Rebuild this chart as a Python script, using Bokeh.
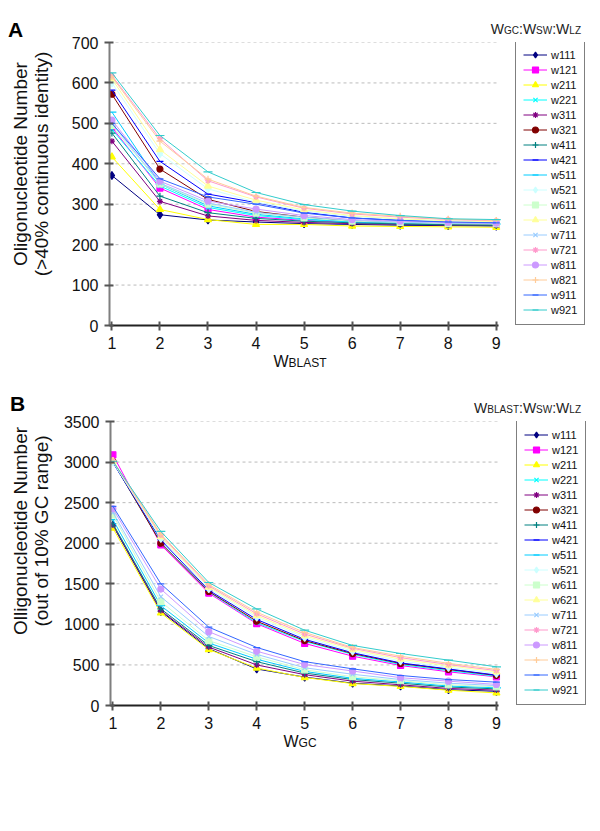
from bokeh.plotting import figure
from bokeh.models import Range1d, Legend, LegendItem, Div
from bokeh.layouts import column, row
from bokeh.embed import file_html
from bokeh.resources import INLINE

# ---------------- data ----------------
x_vals = [1, 2, 3, 4, 5, 6, 7, 8, 9]
series_names = ["w111", "w121", "w211", "w221", "w311", "w321", "w411", "w421", "w511",
                "w521", "w611", "w621", "w711", "w721", "w811", "w821", "w911", "w921"]

# Panel A: x = W_BLAST
A_w111 = [371, 274, 261, 256, 252, 250, 248, 247, 246]
A_w121 = [490, 340, 287, 268, 260, 255, 252, 250, 249]
A_w211 = [417, 287, 262, 250, 250, 246, 245, 244, 243]
A_w221 = [485, 345, 292, 272, 262, 256, 253, 251, 250]
A_w311 = [456, 307, 271, 260, 255, 252, 250, 248, 247]
A_w321 = [572, 387, 312, 282, 268, 258, 254, 251, 250]
A_w411 = [476, 320, 279, 265, 258, 254, 251, 249, 248]
A_w421 = [582, 406, 325, 304, 280, 266, 260, 256, 254]
A_w511 = [528, 350, 296, 275, 264, 257, 254, 252, 251]
A_w521 = [600, 425, 338, 305, 283, 270, 263, 258, 256]
A_w611 = [495, 350, 300, 278, 266, 258, 255, 252, 251]
A_w621 = [610, 435, 345, 310, 286, 272, 264, 259, 257]
A_w711 = [500, 352, 303, 280, 268, 260, 256, 253, 252]
A_w721 = [618, 462, 358, 318, 290, 276, 268, 262, 259]
A_w811 = [508, 357, 308, 288, 272, 262, 258, 255, 253]
A_w821 = [615, 456, 362, 320, 292, 278, 270, 263, 260]
A_w911 = [500, 363, 318, 300, 278, 266, 260, 256, 254]
A_w921 = [625, 470, 380, 329, 299, 283, 272, 264, 262]

# Panel B: x = W_GC
B_w111 = [2220, 1160, 700, 450, 350, 275, 240, 195, 175]
B_w121 = [3090, 1980, 1385, 1008, 765, 608, 493, 415, 353]
B_w211 = [2185, 1140, 690, 462, 345, 270, 235, 188, 155]
B_w221 = [3000, 2010, 1400, 1020, 790, 630, 505, 430, 360]
B_w311 = [2225, 1170, 720, 500, 380, 300, 255, 210, 190]
B_w321 = [3005, 2000, 1405, 1038, 800, 640, 518, 444, 370]
B_w411 = [2240, 1190, 740, 540, 400, 320, 275, 228, 205]
B_w421 = [2995, 2040, 1420, 1060, 815, 650, 525, 450, 375]
B_w511 = [2290, 1230, 770, 570, 420, 335, 290, 240, 218]
B_w521 = [3000, 2060, 1440, 1090, 840, 670, 550, 470, 395]
B_w611 = [2350, 1280, 800, 600, 440, 355, 305, 255, 230]
B_w621 = [3010, 2080, 1460, 1110, 860, 690, 570, 490, 415]
B_w711 = [2380, 1340, 850, 630, 465, 385, 320, 275, 245]
B_w721 = [3015, 2100, 1475, 1130, 880, 705, 590, 505, 430]
B_w811 = [2425, 1435, 910, 669, 505, 425, 342, 300, 260]
B_w821 = [3020, 2110, 1490, 1150, 900, 715, 608, 520, 445]
B_w911 = [2455, 1500, 965, 715, 540, 452, 370, 320, 288]
B_w921 = [3010, 2145, 1516, 1190, 928, 740, 641, 559, 477]

A_values = [A_w111, A_w121, A_w211, A_w221, A_w311, A_w321, A_w411, A_w421, A_w511,
            A_w521, A_w611, A_w621, A_w711, A_w721, A_w811, A_w821, A_w911, A_w921]
B_values = [B_w111, B_w121, B_w211, B_w221, B_w311, B_w321, B_w411, B_w421, B_w511,
            B_w521, B_w611, B_w621, B_w711, B_w721, B_w811, B_w821, B_w911, B_w921]

A_yticks = [0, 100, 200, 300, 400, 500, 600, 700]
B_yticks = [0, 500, 1000, 1500, 2000, 2500, 3000, 3500]

# ---------------- styles ----------------
colors = ["#000080", "#FF00FF", "#FFFF00", "#00FFFF", "#800080", "#800000", "#008080", "#0000FF", "#00CCFF",
          "#CCFFFF", "#CCFFCC", "#FFFF99", "#99CCFF", "#FF99CC", "#CC99FF", "#FFCC99", "#3366FF", "#33CCCC"]
markers = ["diamond", "square", "triangle", "x", "asterisk", "circle", "cross", "dash", "dash",
           "diamond", "square", "triangle", "x", "asterisk", "circle", "cross", "dash", "dash"]
msizes = [8, 6, 7, 6, 6, 6, 7, 7, 9, 8, 6, 7, 6, 6, 6, 7, 7, 9]

FONT = "Liberation Sans"
CSS_FONT = "font-family:'Liberation Sans',Arial,sans-serif;"
W = 590            # full width
YLW = 60           # width of the y-label strip
PW = W - YLW       # figure width
BL, BR = 49, 2
X0, X1 = 0.95, 9.05      # extent of the plotted x axis
XR_END = 10.92           # frame extends to the right to host the legend


def small_caps(parts, small_px):
    out = []
    for big, small in parts:
        out.append(big + '<span style="font-size:%dpx">%s</span>' % (small_px, small))
    return ":".join(out)


def header(letter, letter_top, letter_left, title_html, title_top, height):
    html = (
        '<div style="position:relative;width:%dpx;height:%dpx;%s">'
        '<span style="position:absolute;left:%dpx;top:%dpx;font-size:21px;font-weight:bold;line-height:1;color:#000;">%s</span>'
        '<span style="position:absolute;right:9px;top:%dpx;font-size:14px;line-height:1;color:#222;white-space:nowrap;">%s</span>'
        '</div>' % (W, height, CSS_FONT, letter_left, letter_top, letter, title_top, title_html)
    )
    return Div(text=html, width=W, height=height, margin=0)


def xlabel_div(label_html, top, height):
    html = (
        '<div style="position:relative;width:%dpx;height:%dpx;%s">'
        '<div style="position:absolute;left:0px;top:%dpx;width:600px;text-align:center;'
        'font-size:16px;line-height:1;color:#111;white-space:nowrap;">%s</div>'
        '</div>' % (W, height, CSS_FONT, top, label_html)
    )
    return Div(text=html, width=W, height=height, margin=0)


def ylabel_div(line1, line2, center_y, height):
    box_w = 300
    html = (
        '<div style="position:relative;width:%dpx;height:%dpx;%s">'
        '<div style="position:absolute;left:10px;top:%dpx;width:%dpx;transform-origin:0 0;'
        'transform:rotate(-90deg);text-align:center;font-size:19px;line-height:21px;color:#111;'
        'white-space:nowrap;">%s<br>%s</div>'
        '</div>' % (YLW, height, CSS_FONT, int(center_y + box_w / 2), box_w, line1, line2)
    )
    return Div(text=html, width=YLW, height=height, margin=0)


def make_panel(yticks, values, height, top, bottom):
    ymax = yticks[-1]
    p = figure(width=PW, height=height, output_backend="svg", toolbar_location=None,
               x_range=Range1d(X0, XR_END), y_range=Range1d(0, ymax),
               min_border_left=BL, min_border_right=BR, min_border_top=top,
               min_border_bottom=bottom)
    p.title.visible = False
    p.outline_line_color = None
    p.background_fill_color = "white"
    p.border_fill_color = "white"
    p.xgrid.grid_line_color = None
    p.ygrid.grid_line_color = None

    # horizontal dashed gridlines limited to the axis extent
    gy = [t for t in yticks if t > 0]
    p.segment(x0=[X0] * len(gy), y0=gy, x1=[X1] * len(gy), y1=gy,
              line_color="#BBBBBB", line_dash="3 3", line_width=1)

    p.xaxis.ticker = x_vals
    p.xaxis.bounds = (X0, X1)
    p.yaxis.ticker = yticks
    for ax in (p.xaxis, p.yaxis):
        ax.major_label_text_font = FONT
        ax.major_label_text_font_size = "16px"
        ax.major_label_text_color = "#111111"
        ax.minor_tick_line_color = None
        ax.major_tick_in = 4
        ax.major_tick_out = 5
        ax.major_tick_line_color = "#555555"
        ax.major_tick_line_width = 2
    p.yaxis.axis_line_color = "#7F7F7F"
    p.yaxis.axis_line_width = 2
    p.xaxis.axis_line_color = "#222222"
    p.xaxis.axis_line_width = 2
    p.yaxis.major_label_standoff = 6
    p.xaxis.major_label_standoff = 6

    items = []
    for name, vals, c, m, s in zip(series_names, values, colors, markers, msizes):
        r1 = p.line(x_vals, vals, line_color=c, line_width=1)
        r2 = p.scatter(x_vals, vals, marker=m, size=s, line_color=c, fill_color=c, line_width=1.2)
        items.append(LegendItem(label=name, renderers=[r1, r2]))

    legend = Legend(items=items, location=(406, 0), orientation="vertical",
                    border_line_color="black", border_line_width=1,
                    background_fill_color="white", background_fill_alpha=1,
                    label_text_font=FONT, label_text_font_size="11px",
                    label_text_color="#111111",
                    glyph_width=24, glyph_height=15, label_height=15,
                    spacing=0, padding=7, margin=0, label_standoff=4)
    p.add_layout(legend, "center")
    return p


HA, HB = 318, 319
hdrA = header("A", 19, 8, small_caps([("W", "GC"), ("W", "SW"), ("W", "LZ")], 10), 22, 35)
pA = make_panel(A_yticks, A_values, HA, 7, 28)
ylA = ylabel_div("Oligonucleotide Number", "(&gt;40% continuous identity)", 129, HA)
xlA = xlabel_div(small_caps([("W", "BLAST")], 12), 1, 39)

hdrB = header("B", 1, 10, small_caps([("W", "BLAST"), ("W", "SW"), ("W", "LZ")], 10), 9, 22)
pB = make_panel(B_yticks, B_values, HB, 7, 28)
ylB = ylabel_div("Olligonucleotide Number", "(out of 10% GC range)", 117, HB)
xlB = xlabel_div(small_caps([("W", "GC")], 12), 1, 88)

layout = column(hdrA, row(ylA, pA, spacing=0), xlA, hdrB, row(ylB, pB, spacing=0), xlB, spacing=0)
open("out.html", "w").write(file_html(layout, INLINE))
